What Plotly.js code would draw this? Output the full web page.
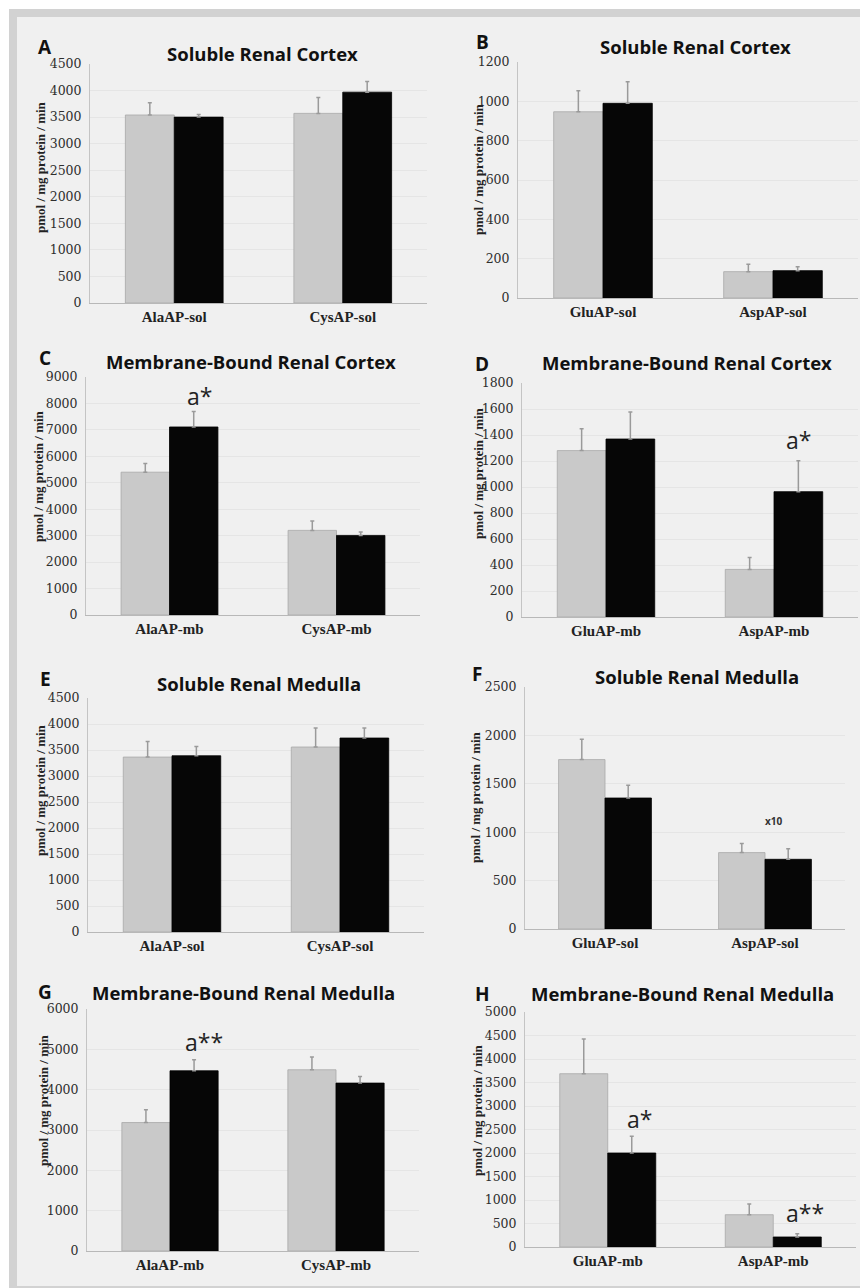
<!DOCTYPE html>
<html>
<head>
<meta charset="utf-8">
<script src="https://cdn.plot.ly/plotly-3.0.1.min.js"></script>
<style>
html,body{margin:0;padding:0;background:#ffffff;}
#chart{width:860px;height:1288px;}
</style>
</head>
<body>
<div id="chart"></div>
<script>
// ---------- DATA ----------
const catA = ['AlaAP-sol', 'CysAP-sol'];
const greyA = [3540, 3570];
const greyErrA = [230, 300];
const blackA = [3500, 3970];
const blackErrA = [50, 200];

const catB = ['GluAP-sol', 'AspAP-sol'];
const greyB = [947, 134];
const greyErrB = [107, 37];
const blackB = [990, 139];
const blackErrB = [110, 20];

const catC = ['AlaAP-mb', 'CysAP-mb'];
const greyC = [5400, 3200];
const greyErrC = [330, 355];
const blackC = [7110, 3010];
const blackErrC = [590, 130];

const catD = ['GluAP-mb', 'AspAP-mb'];
const greyD = [1280, 366];
const greyErrD = [168, 92];
const blackD = [1369, 964];
const blackErrD = [208, 237];

const catE = ['AlaAP-sol', 'CysAP-sol'];
const greyE = [3364, 3557];
const greyErrE = [300, 365];
const blackE = [3389, 3730];
const blackErrE = [180, 192];

const catF = ['GluAP-sol', 'AspAP-sol'];
const greyF = [1750, 789];
const greyErrF = [210, 93];
const blackF = [1353, 720];
const blackErrF = [131, 110];

const catG = ['AlaAP-mb', 'CysAP-mb'];
const greyG = [3185, 4493];
const greyErrG = [315, 315];
const blackG = [4468, 4163];
const blackErrG = [273, 165];

const catH = ['GluAP-mb', 'AspAP-mb'];
const greyH = [3687, 687];
const greyErrH = [739, 228];
const blackH = [2000, 213];
const blackErrH = [354, 70];

const panelLetters = ['A', 'B', 'C', 'D', 'E', 'F', 'G', 'H'];
const panelTitles = ['Soluble Renal Cortex', 'Soluble Renal Cortex',
  'Membrane-Bound Renal Cortex', 'Membrane-Bound Renal Cortex',
  'Soluble Renal Medulla', 'Soluble Renal Medulla',
  'Membrane-Bound Renal Medulla', 'Membrane-Bound Renal Medulla'];
const yMax = [4500, 1200, 9000, 1800, 4500, 2500, 6000, 5000];
const yStep = [500, 200, 1000, 200, 500, 500, 1000, 500];
const yTitle = 'pmol / mg protein / min';

// significance marks: [panel index, category, label]
const sigMarks = [
  [2, 'AlaAP-mb', 'a*'],
  [3, 'AspAP-mb', 'a*'],
  [6, 'AlaAP-mb', 'a**'],
  [7, 'GluAP-mb', 'a*'],
  [7, 'AspAP-mb', 'a**']
];
const noteF = {cat: 'AspAP-sol', value: 1120, text: 'x10'};

// ---------- LAYOUT ----------
const W = 860, H = 1288;
const panels = [
  {cat: catA, g: greyA, ge: greyErrA, b: blackA, be: blackErrA, box: [90, 427, 64, 303], letter: [45, 47], title: [262, 53], ytitle: [40, 167]},
  {cat: catB, g: greyB, ge: greyErrB, b: blackB, be: blackErrB, box: [518, 858, 62, 298], letter: [482, 42], title: [695, 47], ytitle: [478, 169]},
  {cat: catC, g: greyC, ge: greyErrC, b: blackC, be: blackErrC, box: [86, 420, 377, 615], letter: [45, 358], title: [251, 362], ytitle: [39, 476]},
  {cat: catD, g: greyD, ge: greyErrD, b: blackD, be: blackErrD, box: [522, 858, 383, 617], letter: [482, 364], title: [687, 363], ytitle: [478, 473]},
  {cat: catE, g: greyE, ge: greyErrE, b: blackE, be: blackErrE, box: [88, 424, 698, 932], letter: [45, 679], title: [259, 684], ytitle: [40, 790]},
  {cat: catF, g: greyF, ge: greyErrF, b: blackF, be: blackErrF, box: [525, 845, 687, 929], letter: [477, 674], title: [697, 676], ytitle: [475, 797]},
  {cat: catG, g: greyG, ge: greyErrG, b: blackG, be: blackErrG, box: [87, 419, 1009, 1251], letter: [45, 992], title: [243, 992], ytitle: [43, 1100]},
  {cat: catH, g: greyH, ge: greyErrH, b: blackH, be: blackErrH, box: [525, 856, 1012, 1247], letter: [482, 994], title: [682, 993], ytitle: [477, 1110]}
];
const sigShift = {0: [6, -3], 1: [0, 3], 2: [10, 0], 3: [8, -1], 4: [8, 3]};

const px = v => v / W;
const py = v => 1 - v / H;

const data = [];
const layout = {
  width: W, height: H,
  margin: {l: 0, r: 0, t: 0, b: 0},
  paper_bgcolor: '#ffffff',
  plot_bgcolor: 'rgba(0,0,0,0)',
  barmode: 'group',
  bargap: 0.42,
  bargroupgap: 0,
  showlegend: false,
  shapes: [
    {type: 'rect', xref: 'paper', yref: 'paper', x0: px(9), x1: px(860), y0: py(1288), y1: py(9), fillcolor: '#d2d2d2', line: {width: 0}, layer: 'below'},
    {type: 'rect', xref: 'paper', yref: 'paper', x0: px(17), x1: px(860), y0: py(1286), y1: py(17), fillcolor: '#f0f0f0', line: {width: 0}, layer: 'below'}
  ],
  annotations: []
};

const errStyle = {color: '#9a9a9a', thickness: 1.5, width: 2};

panels.forEach((p, i) => {
  const n = i === 0 ? '' : String(i + 1);
  const xa = 'x' + n, ya = 'y' + n;
  const zeros = p.cat.map(() => 0);
  data.push({
    type: 'bar', x: p.cat, y: p.g, xaxis: xa, yaxis: ya, name: 'grey',
    marker: {color: '#c9c9c9', line: {color: '#a8a8a8', width: 0.8}},
    error_y: Object.assign({type: 'data', symmetric: false, array: p.ge, arrayminus: zeros}, errStyle),
    hoverinfo: 'y'
  });
  data.push({
    type: 'bar', x: p.cat, y: p.b, xaxis: xa, yaxis: ya, name: 'black',
    marker: {color: '#060606', line: {color: '#000000', width: 0.8}},
    error_y: Object.assign({type: 'data', symmetric: false, array: p.be, arrayminus: zeros}, errStyle),
    hoverinfo: 'y'
  });
  layout['xaxis' + n] = {
    domain: [px(p.box[0]), px(p.box[1])], anchor: ya, type: 'category',
    showline: true, linecolor: '#b8b8b8', linewidth: 1,
    ticks: '', showgrid: false, zeroline: false,
    tickfont: {family: '"Liberation Serif", "Times New Roman", serif', size: 15, color: '#222222', weight: 'bold'},
    fixedrange: true
  };
  layout['yaxis' + n] = {
    domain: [py(p.box[3]), py(p.box[2])], anchor: xa,
    range: [0, yMax[i]], dtick: yStep[i], tick0: 0,
    showline: true, linecolor: '#c4c4c4', linewidth: 1,
    showgrid: true, gridcolor: '#e5e5e5', gridwidth: 1,
    zeroline: false, ticks: '', ticklabelstandoff: 5,
    tickfont: {family: '"DejaVu Serif", serif', size: 12.5, color: '#2e2e2e'},
    fixedrange: true
  };
  layout.annotations.push({
    xref: 'paper', yref: 'paper', x: px(p.letter[0]), y: py(p.letter[1]),
    text: panelLetters[i], showarrow: false, xanchor: 'center', yanchor: 'middle',
    font: {family: 'Open Sans', size: 19, color: '#111111', weight: 'bold'}
  });
  layout.annotations.push({
    xref: 'paper', yref: 'paper', x: px(p.title[0]), y: py(p.title[1]),
    text: panelTitles[i], showarrow: false, xanchor: 'center', yanchor: 'middle',
    font: {family: 'Open Sans', size: 18.5, color: '#111111', weight: 'bold'}
  });
  layout.annotations.push({
    xref: 'paper', yref: 'paper', x: px(p.ytitle[0]), y: py(p.ytitle[1]),
    text: yTitle, showarrow: false, textangle: -90, xanchor: 'center', yanchor: 'middle',
    font: {family: '"Liberation Serif", "Times New Roman", serif', size: 13, color: '#222222', weight: 'bold'}
  });
});

sigMarks.forEach((s, k) => {
  const i = s[0];
  const p = panels[i];
  const n = i === 0 ? '' : String(i + 1);
  const idx = p.cat.indexOf(s[1]);
  const groupPx = (p.box[1] - p.box[0]) / p.cat.length * (1 - layout.bargap);
  layout.annotations.push({
    xref: 'x' + n, yref: 'y' + n, x: s[1], y: p.b[idx] + p.be[idx],
    text: s[2], showarrow: false, xanchor: 'center', yanchor: 'bottom',
    xshift: groupPx / 4 + sigShift[k][0], yshift: sigShift[k][1],
    font: {family: 'Open Sans', size: 23, color: '#222222'}
  });
});

layout.annotations.push({
  xref: 'x6', yref: 'y6', x: noteF.cat, y: noteF.value,
  text: noteF.text, showarrow: false, xanchor: 'center', yanchor: 'middle', xshift: 8,
  font: {family: 'Open Sans', size: 10, color: '#333333', weight: 'bold'}
});

Plotly.newPlot('chart', data, layout, {displayModeBar: false, staticPlot: true});
</script>
</body>
</html>
